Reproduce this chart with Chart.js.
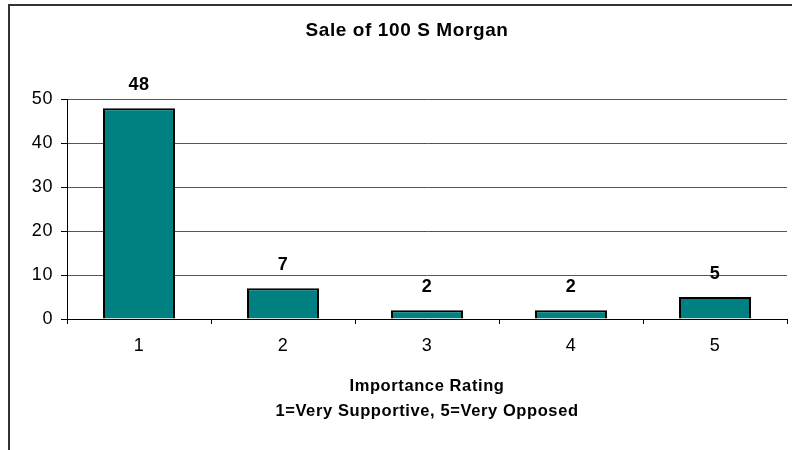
<!DOCTYPE html>
<html>
<head>
<meta charset="utf-8">
<script src="https://cdn.jsdelivr.net/npm/chart.js@4/dist/chart.umd.min.js"></script>
<style>
  html, body { margin: 0; padding: 0; background: #fff; overflow: hidden; width: 792px; height: 450px; }
  #frame { position: absolute; left: 8px; top: 4px; width: 900px; height: 500px;
           border-left: 2px solid #333; border-top: 2px solid #333; box-sizing: border-box; }
  #wrap { position: absolute; left: 10px; top: 6px; width: 794px; height: 444px; }
</style>
</head>
<body>
<div id="frame"></div>
<div id="wrap"><canvas id="c" width="794" height="444"></canvas></div>
<script>
const titleText = 'Sale of 100 S Morgan';
const xTitleLines = ['Importance Rating', '1=Very Supportive, 5=Very Opposed'];
const categories = ['1', '2', '3', '4', '5'];
const counts = [48, 7, 2, 2, 5];
const yMin = 0;
const yMax = 50;
const yStep = 10;

const FONT = "'Liberation Sans', Arial, sans-serif";

const spacingPlugin = {
  id: 'spacing',
  beforeDraw(chart) { chart.ctx.letterSpacing = '0.6px'; },
  afterDraw(chart) { chart.ctx.letterSpacing = '0px'; }
};

const valueLabels = {
  id: 'valueLabels',
  afterDatasetsDraw(chart) {
    const ctx = chart.ctx;
    const meta = chart.getDatasetMeta(0);
    ctx.save();
    ctx.font = 'bold 18px ' + FONT;
    ctx.fillStyle = '#000';
    ctx.textAlign = 'center';
    ctx.textBaseline = 'middle';
    meta.data.forEach((bar, i) => {
      ctx.fillText(String(chart.data.datasets[0].data[i]), bar.x, bar.y - 23);
    });
    ctx.restore();
  }
};

new Chart(document.getElementById('c'), {
  type: 'bar',
  data: {
    labels: categories,
    datasets: [{
      data: counts,
      backgroundColor: '#008080',
      borderColor: '#000',
      borderWidth: 2,
      barPercentage: 0.5,
      categoryPercentage: 1.0
    }]
  },
  options: {
    responsive: false,
    animation: false,
    devicePixelRatio: 1,
    layout: { padding: { left: 17, right: 17, top: 0, bottom: 0 } },
    plugins: {
      legend: { display: false },
      tooltip: { enabled: false },
      title: {
        display: true,
        text: titleText,
        color: '#000',
        font: { family: FONT, size: 19, weight: 'bold', lineHeight: 1.2 },
        padding: { top: 13.6, bottom: 57.0 }
      }
    },
    scales: {
      x: {
        grid: { display: true, drawOnChartArea: false, drawTicks: true, tickLength: 5,
                offset: true, color: '#000', tickColor: '#000' },
        border: { display: true, color: '#000', width: 1 },
        ticks: { color: '#000', padding: 11, font: { family: FONT, size: 18 }, maxRotation: 0 },
        title: {
          display: true,
          text: xTitleLines,
          color: '#000',
          font: { family: FONT, size: 16.5, weight: 'bold', lineHeight: 1.5 },
          padding: { top: 0, bottom: 26.5 }
        },
        afterFit(scale) { scale.height = 131; }
      },
      y: {
        min: yMin,
        max: yMax,
        grid: { color: '#555', tickColor: '#000', tickLength: 6, drawTicks: true },
        border: { display: true, color: '#000', width: 1 },
        ticks: { stepSize: yStep, color: '#000', padding: 8, font: { family: FONT, size: 18 } },
        afterFit(scale) { scale.width = 40; }
      }
    }
  },
  plugins: [spacingPlugin, valueLabels]
});
</script>
</body>
</html>
